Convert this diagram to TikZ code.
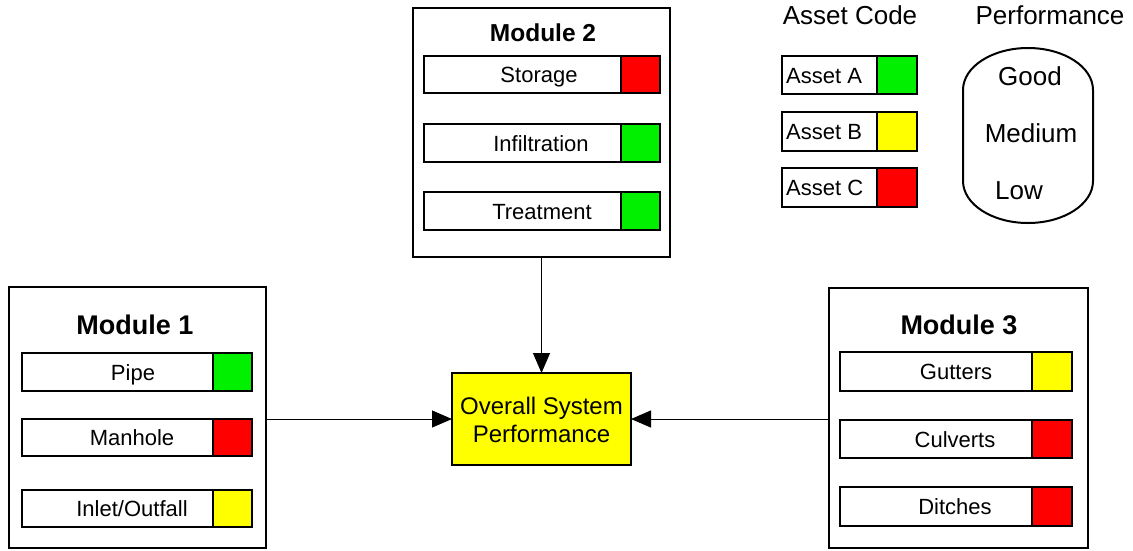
\documentclass[tikz,border=0pt]{standalone}
\usepackage{fontspec}
\setmainfont{Liberation Sans}
\usetikzlibrary{arrows.meta}
\definecolor{cgreen}{HTML}{00F000}
\definecolor{cred}{HTML}{FF0000}
\definecolor{cyellow}{HTML}{FFFF00}
\tikzset{
  rowbox/.style={draw=black, line width=2pt, inner sep=0pt, outer sep=0pt, fill=white},
  rowtext/.style={inner sep=0pt, font=\fontsize{22}{26}\selectfont, text height=16pt, text depth=4.5pt},
  modbox/.style={draw=black, line width=2pt, inner sep=0pt, outer sep=0pt, anchor=north west},
  modtitle/.style={inner sep=0pt, font=\fontsize{27}{30}\selectfont\bfseries, text height=19pt, text depth=0pt},
  conn/.style={draw=black, line width=1pt, -{Triangle[length=20pt,width=17pt]}},
  legtitle/.style={inner sep=0pt, font=\fontsize{26}{30}\selectfont, text height=19pt, text depth=0pt},
  perftext/.style={inner sep=0pt, font=\fontsize{26}{30}\selectfont, text height=19pt, text depth=0pt},
}
% #1 name, #2 left, #3 square left, #4 right, #5 top, #6 bottom, #7 text x, #8 colour, #9 text
\newcommand{\assetrow}[9]{%
  \node[rowbox, anchor=north west, minimum width={(#3-#2)*1pt}, minimum height={(#6-#5)*1pt}] (#1) at (#2,#5) {};
  \node[rowbox, fill=#8, anchor=north west, minimum width={(#4-#3)*1pt}, minimum height={(#6-#5)*1pt}] (#1c) at (#3,#5) {};
  \node[rowtext] (#1t) at (#7,{(#5+#6)/2+2.5}) {#9};
}
\begin{document}
\begin{tikzpicture}[x=1pt,y=-1pt]
\useasboundingbox[fill=white] (0,0) rectangle (1133,550);

% Module 1
\node[modbox, minimum width=257pt, minimum height=261pt] (m1) at (9,287) {};
\node[modtitle] (m1t) at (135,325) {Module 1};
\assetrow{pipe}{22}{213}{252}{353}{391}{133}{cgreen}{Pipe}
\assetrow{manhole}{22}{213}{252}{419}{456}{132}{cred}{Manhole}
\assetrow{inlet}{22}{213}{252}{490}{527}{132}{cyellow}{Inlet/Outfall}

% Module 2
\node[modbox, minimum width=257pt, minimum height=249pt] (m2) at (413,8) {};
\node[modtitle, font=\fontsize{24.5}{28}\selectfont\bfseries, text height=17.5pt] (m2t) at (543,33) {Module 2};
\assetrow{storage}{424}{621}{660}{56}{93}{539}{cred}{Storage}
\assetrow{infil}{424}{621}{660}{124}{162}{541}{cgreen}{Infiltration}
\assetrow{treat}{424}{621}{660}{192}{230}{542}{cgreen}{Treatment}

% Module 3
\node[modbox, minimum width=259pt, minimum height=260pt] (m3) at (829,288) {};
\node[modtitle] (m3t) at (959,325) {Module 3};
\assetrow{gutters}{840}{1032}{1072}{352}{391}{956}{cyellow}{Gutters}
\assetrow{culverts}{840}{1032}{1072}{420}{458}{955}{cred}{Culverts}
\assetrow{ditches}{840}{1032}{1072}{487}{526}{955}{cred}{Ditches}

% Overall
\node[draw=black, line width=2pt, fill=cyellow, inner sep=0pt, outer sep=0pt,
      minimum width=179pt, minimum height=92pt, anchor=north west] (ov) at (452,373) {};
\node[inner sep=0pt, font=\fontsize{24}{28}\selectfont, align=center] (ovt) at (541.5,420)
  {Overall System\\[-0.5pt]Performance};

% Connectors
\draw[conn] (m1.east |- ov.west) -- (ov.west);
\draw[conn] (m3.west |- ov.east) -- (ov.east);
\draw[conn] (m2.south) -- (ov.north);

% Legend: Asset code
\node[legtitle] (actitle) at (850,15) {Asset Code};
\node[rowbox, anchor=north west, minimum width=95pt, minimum height=38pt] (aa) at (782,56) {};
\node[rowbox, fill=cgreen, anchor=north west, minimum width=40pt, minimum height=38pt] (aac) at (877,56) {};
\node[rowtext, anchor=west] (aat) at (786,77.5) {Asset A};
\node[rowbox, anchor=north west, minimum width=95pt, minimum height=39pt] (ab) at (782,112) {};
\node[rowbox, fill=cyellow, anchor=north west, minimum width=40pt, minimum height=39pt] (abc) at (877,112) {};
\node[rowtext, anchor=west] (abt) at (786,134) {Asset B};
\node[rowbox, anchor=north west, minimum width=95pt, minimum height=39pt] (ac) at (782,168) {};
\node[rowbox, fill=cred, anchor=north west, minimum width=40pt, minimum height=39pt] (acc) at (877,168) {};
\node[rowtext, anchor=west] (act) at (786,190) {Asset C};

% Legend: Performance
\node[legtitle] (pftitle) at (1050,15) {Performance};
\draw[line width=2pt] (963,90) .. controls (963,66.8) and (992.1,48) .. (1028,48)
  .. controls (1063.9,48) and (1093,66.8) .. (1093,90)
  -- (1093,181) .. controls (1093,204.2) and (1063.9,223) .. (1028,223)
  .. controls (992.1,223) and (963,204.2) .. (963,181) -- cycle;
\node[perftext] (good) at (1030,76) {Good};
\node[perftext] (medium) at (1031,133) {Medium};
\node[perftext] (low) at (1019,190) {Low};
\end{tikzpicture}
\end{document}
